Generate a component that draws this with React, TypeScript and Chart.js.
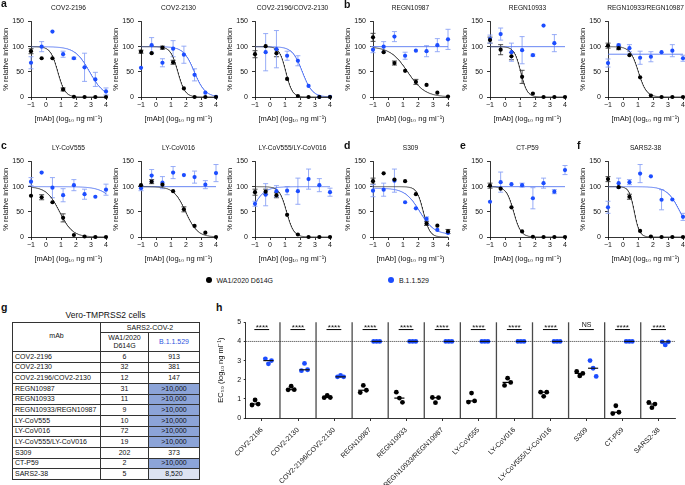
import React, { useEffect, useRef } from 'react';
import { Chart, registerables } from 'chart.js';

Chart.register(...registerables);

const FONT = "'Liberation Sans', Arial, Helvetica, sans-serif";
Chart.defaults.font.family = FONT;
Chart.defaults.color = '#111';

// ---------------- data: neutralization curves (panels a–f) ----------------
const doses = [-1, -0.29, 0.43, 1.14, 1.86, 2.57, 3.29, 4]; // log10 ng/ml

const panelTitles = [
  'COV2-2196', 'COV2-2130', 'COV2-2196/COV2-2130',
  'REGN10987', 'REGN10933', 'REGN10933/REGN10987',
  'LY-CoV555', 'LY-CoV016', 'LY-CoV555/LY-CoV016',
  'S309', 'CT-P59', 'SARS2-38',
];

const wtMean: (number | null)[][] = [
  [91, 77, 77, 15, 0.5, 0, 0, 0],
  [90, 87, 98, 69, 17, 0, 0, 0],
  [85, 101, 87, 36, 2, 0, 0, 0],
  [118.5, 89, 67.5, 52, 30, 24, 8.6, 1],
  [113, 94, 81, 40, 7, 0, 0, 0],
  [102, 97, 83, 39, 3, 0, 0, 0],
  [82, 79, 69, 38, 4, 1, 0, 0],
  [103, 110, 104, 91, 55, 22, 8.5, 0],
  [89, 90, 83, 44, 5, 0, 0, 0],
  [111, 126.5, 114, 111, 85, 27, 22.5, 11],
  [102, 96, 59, 11, 0.5, 0, 0, 0],
  [115, 99, 80, 12, 1, 0, 0, 0],
];
const wtSd = [
  [5, 0, 0, 3, 0, 0, 0, 0],
  [3, 0, 3, 4, 0, 0, 0, 0],
  [7, 0, 7, 0, 0, 0, 0, 0],
  [8, 0, 4, 0, 5, 0, 0, 0],
  [6, 10, 7, 13, 0, 0, 0, 0],
  [5, 3, 0, 0, 0, 0, 0, 0],
  [0, 5, 0, 8, 0, 0, 0, 0],
  [0, 4, 0, 0, 5, 0, 0, 0],
  [6, 5, 5, 0, 0, 0, 0, 0],
  [6, 0, 0, 0, 0, 4, 0, 4],
  [5, 0, 0, 0, 0, 0, 0, 0],
  [5, 0, 5, 0, 0, 0, 0, 0],
];
const omiMean: (number | null)[][] = [
  [68, 100, 130, 85, 77, 59, 35, 11],
  [58, 103, 68, 96, 84, 44, 8.6, 0.5],
  [null, 89, 95, 82, 72, 22, 0.5, 0.5],
  [94, 100, 120, 82, 92, 91, 103, 114.5],
  [115, 125, 89, 93, 83, 142, 107, null],
  [67.5, 103, 97, 78, 80, 89, 92, 77],
  [110, 128, 98, 83, 103, 85, 80, 94],
  [97, 122, 108, 128, 123, 119, 104, 127],
  [66, 84, 91, 92, 91, 115, 103, 89],
  [92, 94, 112, 69, 57, 36, 14, 8],
  [70, 109, 105, 103, 77, 107, 90, 133],
  [59, 107, 109, 126, 120.5, 74, 74.5, 40],
];
const omiSd = [
  [12, 10, 0, 6, 2, 28, 14, 7],
  [0, 15, 8, 16, 17, 12, 0, 0],
  [0, 37, 37, 9, 10, 0, 0, 0],
  [6, 10, 10, 7, 0, 11, 13, 20],
  [8, 12, 18, 27, 2, 0, 17, 0],
  [8, 2, 7, 13, 10, 0, 12, 6],
  [8, 0, 20, 13, 11, 10, 0, 11],
  [5, 12, 12, 12, 0, 12, 8, 17],
  [5, 22, 11, 8, 26, 20, 13, 8],
  [12, 13, 23, 0, 0, 4, 0, 0],
  [0, 20, 0, 4, 21, 10, 4, 9],
  [12, 10, 5, 18, 0, 20, 0, 7],
];
// fitted logistic curves: [value at low dose, value at high dose, logEC50, hill slope]
const wtFit = [
  [100, 0, 0.78, 1.8],
  [100, 0, 1.45, 1.8],
  [100, 0, 1.05, 2],
  [100, 0, 1.3, 0.75],
  [100, 0, 1.04, 2],
  [100, 0, 1.02, 1.6],
  [100, 0, 0.9, 1.0],
  [100, 0, 1.97, 1.1],
  [100, 0, 1.1, 1.8],
  [100, 0, 2.35, 2],
  [100, 0, 0.57, 1.8],
  [100, 0, 0.75, 2.5],
];
const omiFit = [
  [100, 0, 2.9, 0.9],
  [100, 0, 2.55, 1.2],
  [100, 0, 2.15, 1.3],
  [100, 100, 0, 1],
  [100, 100, 0, 1],
  [85, 85, 0, 1],
  [100, 0, 4.98, 0.8],
  [100, 100, 0, 1],
  [0, 100, -1.3, 1],
  [97, 5, 2.1, 0.9],
  [100, 100, 0, 1],
  [100, 0, 3.8, 1],
];

// ---------------- data: EC50 (panel h) and table (panel g) ----------------
const ec50Mabs = panelTitles;
const wtEC50 = [
  [0.68, 0.94, 0.73], [1.47, 1.66, 1.48], [1.06, 1.18, 1.07], [1.33, 1.7, 1.45],
  [1.35, 1.04, 0.82], [1.07, 0.8, 1.06], [0.83, 1.3, 0.89], [1.7, 2.08, 1.86],
  [1.35, 1.13, 1.35], [2.43, 2.2, 2.33], [0.23, 0.64, 0.3], [0.82, 0.54, 0.73],
];
const omiEC50 = [
  [3.09, 2.83, 3.0], [2.47, 2.85, 2.52], [2.15, 2.22, 2.15], [4, 4, 4],
  [4, 4, 4], [4, 4, 4], [4, 4, 4], [4, 4, 4],
  [4, 4, 4], [3.0, 2.6, 2.17], [4, 4, 4], [3.98, 3.82, 3.98],
];
const significance = ['****', '****', '****', '****', '****', '****', '****', '****', '****', 'NS', '****', '****'];
const detectionLimit = 4;
const sigLevel = 4.62;

const tableWt = ['6', '32', '12', '31', '11', '9', '10', '72', '19', '202', '2', '5'];
const tableOmi = ['913', '381', '147', '>10,000', '>10,000', '>10,000', '>10,000', '>10,000', '>10,000', '373', '>10,000', '8,520'];

// ---------------- styling ----------------
const BLACK = '#000000';
const BLUE = '#1c4dff';
const BLUE_LINE = '#5878f2';
const BLUE_ERR = '#8ba3f6';

const COL_LEFT = [31, 141, 255, 373, 490, 608];
const ROWS = [
  { rowTop: 0, plotTop: 21.5, plotBottom: 97 },
  { rowTop: 140, plotTop: 161.5, plotBottom: 237 },
];
const PLOT_W = 75;
const Y_W = 31;
const X_H = 27;
const RIGHT_PAD = 6;

function logistic(p: number[], x: number) {
  const [a, b, e, h] = p;
  return b + (a - b) / (1 + Math.pow(10, (x - e) * h));
}

const errorBarPlugin = {
  id: 'errorBars',
  beforeDatasetsDraw(chart: any) {
    const { ctx, scales } = chart;
    const xs = scales.x;
    const ys = scales.y;
    chart.data.datasets.forEach((ds: any) => {
      if (!ds.errors) return;
      ctx.save();
      ctx.strokeStyle = ds.errorColor;
      ctx.lineWidth = 0.9;
      ds.data.forEach((p: any, k: number) => {
        const e = ds.errors[k];
        if (!p || p.y == null || !e) return;
        const px = xs.getPixelForValue(p.x);
        const y1 = ys.getPixelForValue(p.y + e);
        const y2 = ys.getPixelForValue(p.y - e);
        ctx.beginPath();
        ctx.moveTo(px, y1); ctx.lineTo(px, y2);
        ctx.moveTo(px - 2.5, y1); ctx.lineTo(px + 2.5, y1);
        ctx.moveTo(px - 2.5, y2); ctx.lineTo(px + 2.5, y2);
        ctx.stroke();
      });
      ctx.restore();
    });
  },
};

// panel title centred over the plot area (not over the whole canvas)
const panelTitlePlugin = {
  id: 'panelTitle',
  afterDraw(chart: any, _args: any, opts: any) {
    if (!opts || !opts.text) return;
    const { ctx, chartArea } = chart;
    ctx.save();
    ctx.fillStyle = '#111';
    ctx.font = `6.6px ${FONT}`;
    ctx.textAlign = 'center';
    ctx.textBaseline = 'middle';
    ctx.fillText(opts.text, (chartArea.left + chartArea.right) / 2, chartArea.top - 13.4);
    ctx.restore();
  },
};

function DosePanel({ index }: { index: number }) {
  const ref = useRef<HTMLCanvasElement>(null);
  const row = ROWS[index < 6 ? 0 : 1];
  const left = COL_LEFT[index % 6] - Y_W;
  const width = Y_W + PLOT_W + RIGHT_PAD;
  const height = row.plotBottom - row.rowTop + X_H;
  const topArea = row.plotTop - row.rowTop;

  useEffect(() => {
    const curveXs = Array.from({ length: 151 }, (_, k) => -1 + (5 * k) / 150);
    const pts = (vals: (number | null)[]) => doses.map((d, k) => ({ x: d, y: vals[k] }));
    const chart = new Chart(ref.current as HTMLCanvasElement, {
      type: 'scatter',
      data: {
        datasets: [
          {
            data: pts(wtMean[index]) as any,
            backgroundColor: BLACK, borderColor: BLACK, pointRadius: 2.1, pointBorderWidth: 0,
            order: 0, clip: false as any,
            errors: wtSd[index], errorColor: '#3a3a3a',
          } as any,
          {
            data: pts(omiMean[index]) as any,
            backgroundColor: BLUE, borderColor: BLUE, pointRadius: 2.1, pointBorderWidth: 0,
            order: 1, clip: false as any,
            errors: omiSd[index], errorColor: BLUE_ERR,
          } as any,
          {
            data: curveXs.map((x) => ({ x, y: logistic(wtFit[index], x) })),
            showLine: true, pointRadius: 0, borderColor: '#333', borderWidth: 0.8, order: 2,
          } as any,
          {
            data: curveXs.map((x) => ({ x, y: logistic(omiFit[index], x) })),
            showLine: true, pointRadius: 0, borderColor: BLUE_LINE, borderWidth: 0.9, order: 3,
          } as any,
        ],
      },
      options: {
        responsive: false,
        animation: false,
        devicePixelRatio: 1,
        events: [],
        layout: { padding: { top: topArea, left: 0, right: RIGHT_PAD, bottom: 0 } },
        plugins: {
          legend: { display: false },
          tooltip: { enabled: false },
          title: { display: false },
          panelTitle: { text: panelTitles[index] },
        },
        scales: {
          x: {
            type: 'linear', min: -1, max: 4,
            ticks: {
              stepSize: 1, font: { size: 7 }, color: '#111', padding: 1, maxRotation: 0,
              callback: (v: any) => (v < 0 ? '\u2212' + Math.abs(v) : String(v)),
            },
            grid: { display: true, drawOnChartArea: false, drawTicks: true, tickLength: 3, color: '#000', lineWidth: 0.8 },
            border: { display: true, color: '#000', width: 0.8 },
            title: {
              display: true, text: '[mAb] (log\u2081\u2080 ng ml\u207B\u00B9)',
              font: { size: 7.5 }, color: '#111', padding: { top: 0, bottom: 1 },
            },
            afterFit: (s: any) => { s.height = X_H; },
          },
          y: {
            type: 'linear', min: 0, max: 150,
            ticks: { stepSize: 50, font: { size: 7 }, color: '#111', padding: 4 },
            grid: { display: true, drawOnChartArea: false, drawTicks: true, tickLength: 3, color: '#000', lineWidth: 0.8 },
            border: { display: true, color: '#000', width: 0.8 },
            title: {
              display: true, text: '% relative infection',
              font: { size: 7.5 }, color: '#111', padding: { top: 1.5, bottom: 0 },
            },
            afterFit: (s: any) => { s.width = Y_W; },
          },
        },
      } as any,
      plugins: [errorBarPlugin, panelTitlePlugin],
    });
    return () => chart.destroy();
  }, [index]);

  return (
    <canvas
      ref={ref}
      width={width}
      height={height}
      style={{ position: 'absolute', left, top: row.rowTop, width, height }}
    />
  );
}

const WT_OFF = -0.19;
const OMI_OFF = 0.18;
const JITTER = [-0.085, 0, 0.085];

const ec50Decor = {
  id: 'ec50Decor',
  beforeDatasetsDraw(chart: any) {
    const { ctx, chartArea, scales } = chart;
    const xs = scales.x;
    const ys = scales.y;
    ctx.save();
    ctx.strokeStyle = '#4a4a4a';
    ctx.lineWidth = 1.3;
    for (let i = 0; i < ec50Mabs.length - 1; i++) {
      const px = xs.getPixelForValue(i + 0.5);
      ctx.beginPath();
      ctx.moveTo(px, chartArea.top);
      ctx.lineTo(px, chartArea.bottom);
      ctx.stroke();
    }
    const py = ys.getPixelForValue(detectionLimit);
    ctx.strokeStyle = '#333';
    ctx.lineWidth = 1;
    ctx.setLineDash([1, 1]);
    ctx.beginPath();
    ctx.moveTo(chartArea.left, py);
    ctx.lineTo(chartArea.right, py);
    ctx.stroke();
    ctx.restore();
  },
  afterDatasetsDraw(chart: any) {
    const { ctx, scales } = chart;
    const xs = scales.x;
    const ys = scales.y;
    ctx.save();
    const groups = [
      { vals: wtEC50, off: WT_OFF, color: '#000' },
      { vals: omiEC50, off: OMI_OFF, color: '#111' },
    ];
    groups.forEach((g) => {
      g.vals.forEach((vals, i) => {
        const s = [...vals].sort((a, b) => a - b);
        const med = s[Math.floor(s.length / 2)];
        const py = ys.getPixelForValue(med);
        ctx.strokeStyle = g.color;
        ctx.lineWidth = 1.2;
        ctx.beginPath();
        ctx.moveTo(xs.getPixelForValue(i + g.off - 0.14), py);
        ctx.lineTo(xs.getPixelForValue(i + g.off + 0.14), py);
        ctx.stroke();
      });
    });
    const ly = ys.getPixelForValue(sigLevel);
    significance.forEach((lab, i) => {
      ctx.strokeStyle = '#000';
      ctx.lineWidth = 1;
      ctx.beginPath();
      ctx.moveTo(xs.getPixelForValue(i - 0.21), ly);
      ctx.lineTo(xs.getPixelForValue(i + 0.2), ly);
      ctx.stroke();
      const isStars = lab.indexOf('*') >= 0;
      ctx.fillStyle = '#111';
      ctx.font = `${isStars ? 8 : 7}px ${FONT}`;
      ctx.textAlign = 'center';
      ctx.textBaseline = 'alphabetic';
      ctx.fillText(lab, xs.getPixelForValue(i), isStars ? ly + 0.5 : ly - 2.5);
    });
    ctx.restore();
  },
};

function EC50Chart() {
  const ref = useRef<HTMLCanvasElement>(null);
  useEffect(() => {
    const wtPts = wtEC50.flatMap((vals, i) => vals.map((v, j) => ({ x: i + WT_OFF + JITTER[j], y: v })));
    const omiPts = omiEC50.flatMap((vals, i) => vals.map((v, j) => ({ x: i + OMI_OFF + JITTER[j], y: v })));
    const chart = new Chart(ref.current as HTMLCanvasElement, {
      type: 'scatter',
      data: {
        datasets: [
          { data: wtPts, backgroundColor: BLACK, borderColor: BLACK, pointRadius: 2.4, pointBorderWidth: 0, clip: false as any } as any,
          { data: omiPts, backgroundColor: BLUE, borderColor: BLUE, pointRadius: 2.4, pointBorderWidth: 0, clip: false as any } as any,
        ],
      },
      options: {
        responsive: false,
        animation: false,
        devicePixelRatio: 1,
        events: [],
        layout: { padding: { top: 17.3, left: 0, right: 10, bottom: 0 } },
        plugins: { legend: { display: false }, tooltip: { enabled: false } },
        scales: {
          x: {
            type: 'linear', min: -0.45, max: 11.45,
            afterBuildTicks: (s: any) => { s.ticks = ec50Mabs.map((_, i) => ({ value: i })); },
            ticks: {
              autoSkip: false, minRotation: 45, maxRotation: 45, font: { size: 7 }, color: '#111', padding: 5,
              callback: (v: any) => ec50Mabs[v] ?? '',
            },
            grid: { display: true, drawOnChartArea: false, drawTicks: true, tickLength: 3, color: '#000', lineWidth: 0.8 },
            border: { display: true, color: '#000', width: 0.8 },
            afterFit: (s: any) => { s.height = 67; },
          },
          y: {
            type: 'linear', min: 0, max: 5,
            ticks: { stepSize: 1, font: { size: 7 }, color: '#111', padding: 2.5 },
            grid: { display: true, drawOnChartArea: false, drawTicks: true, tickLength: 2, color: '#000', lineWidth: 0.8 },
            border: { display: true, color: '#000', width: 0.8 },
            title: {
              display: true, text: 'EC\u2085\u2080 (log\u2081\u2080 ng ml\u207B\u00B9)',
              font: { size: 7.5 }, color: '#111', padding: { top: 16.5, bottom: 0 },
            },
            afterFit: (s: any) => { s.width = 45.7; },
          },
        },
      } as any,
      plugins: [ec50Decor],
    });
    return () => chart.destroy();
  }, []);
  return (
    <canvas
      ref={ref}
      width={485}
      height={180}
      style={{ position: 'absolute', left: 200, top: 305, width: 485, height: 180 }}
    />
  );
}

const letterStyle = (left: number, top: number): React.CSSProperties => ({
  position: 'absolute', left, top, fontSize: 10.5, fontWeight: 'bold', lineHeight: '11px', color: '#111',
});

const cellBase: React.CSSProperties = {
  border: '1px solid #333', padding: '0 2px', textAlign: 'center', verticalAlign: 'middle', lineHeight: '8px', whiteSpace: 'nowrap',
};

function omiCellBg(v: string) {
  if (v.startsWith('>')) return '#8ca4d8';
  const n = Number(v.replace(/,/g, ''));
  if (n >= 1000) return '#dde3f2';
  return 'transparent';
}

function VeroTable() {
  return (
    <>
      <div style={{ position: 'absolute', left: 12, width: 187, top: 309.5, textAlign: 'center', fontSize: 8.5, lineHeight: '11px', color: '#111' }}>
        Vero-TMPRSS2 cells
      </div>
      <table
        style={{
          position: 'absolute', left: 12, top: 322, width: 187, borderCollapse: 'collapse', tableLayout: 'fixed',
          fontSize: 7, fontFamily: FONT, color: '#111',
        }}
      >
        <colgroup>
          <col style={{ width: 88 }} />
          <col style={{ width: 48 }} />
          <col style={{ width: 51 }} />
        </colgroup>
        <tbody>
          <tr style={{ height: 10 }}>
            <td rowSpan={2} style={{ ...cellBase, verticalAlign: 'middle', paddingBottom: 3 }}>mAb</td>
            <td colSpan={2} style={cellBase}>SARS2-COV-2</td>
          </tr>
          <tr style={{ height: 19 }}>
            <td style={cellBase}>WA1/2020<br />D614G</td>
            <td style={{ ...cellBase, color: '#2f55e0' }}>B.1.1.529</td>
          </tr>
          {ec50Mabs.map((m, i) => (
            <tr key={m} style={{ height: 10.67 }}>
              <td style={{ ...cellBase, textAlign: 'left' }}>{m}</td>
              <td style={cellBase}>{tableWt[i]}</td>
              <td style={{ ...cellBase, background: omiCellBg(tableOmi[i]) }}>{tableOmi[i]}</td>
            </tr>
          ))}
        </tbody>
      </table>
    </>
  );
}

export default function App() {
  return (
    <div
      style={{
        position: 'absolute', left: 0, top: 0, width: 685, height: 485, overflow: 'hidden',
        background: '#fff', fontFamily: FONT, color: '#111',
      }}
    >
      {panelTitles.map((t, i) => (
        <DosePanel key={t} index={i} />
      ))}
      <div style={letterStyle(1, -2)}>a</div>
      <div style={letterStyle(344, -1)}>b</div>
      <div style={letterStyle(1, 140)}>c</div>
      <div style={letterStyle(344, 140)}>d</div>
      <div style={letterStyle(460, 140)}>e</div>
      <div style={letterStyle(577, 140)}>f</div>
      <div style={letterStyle(1, 302)}>g</div>
      <div style={letterStyle(216, 302)}>h</div>

      <div style={{ position: 'absolute', left: 206, top: 277, width: 6, height: 6, borderRadius: 3, background: BLACK }} />
      <div style={{ position: 'absolute', left: 216.5, top: 275.5, fontSize: 7, lineHeight: '9px', whiteSpace: 'nowrap' }}>WA1/2020 D614G</div>
      <div style={{ position: 'absolute', left: 388, top: 277, width: 6, height: 6, borderRadius: 3, background: BLUE }} />
      <div style={{ position: 'absolute', left: 399, top: 275.5, fontSize: 7, lineHeight: '9px', whiteSpace: 'nowrap' }}>B.1.1.529</div>

      <VeroTable />
      <EC50Chart />
    </div>
  );
}
